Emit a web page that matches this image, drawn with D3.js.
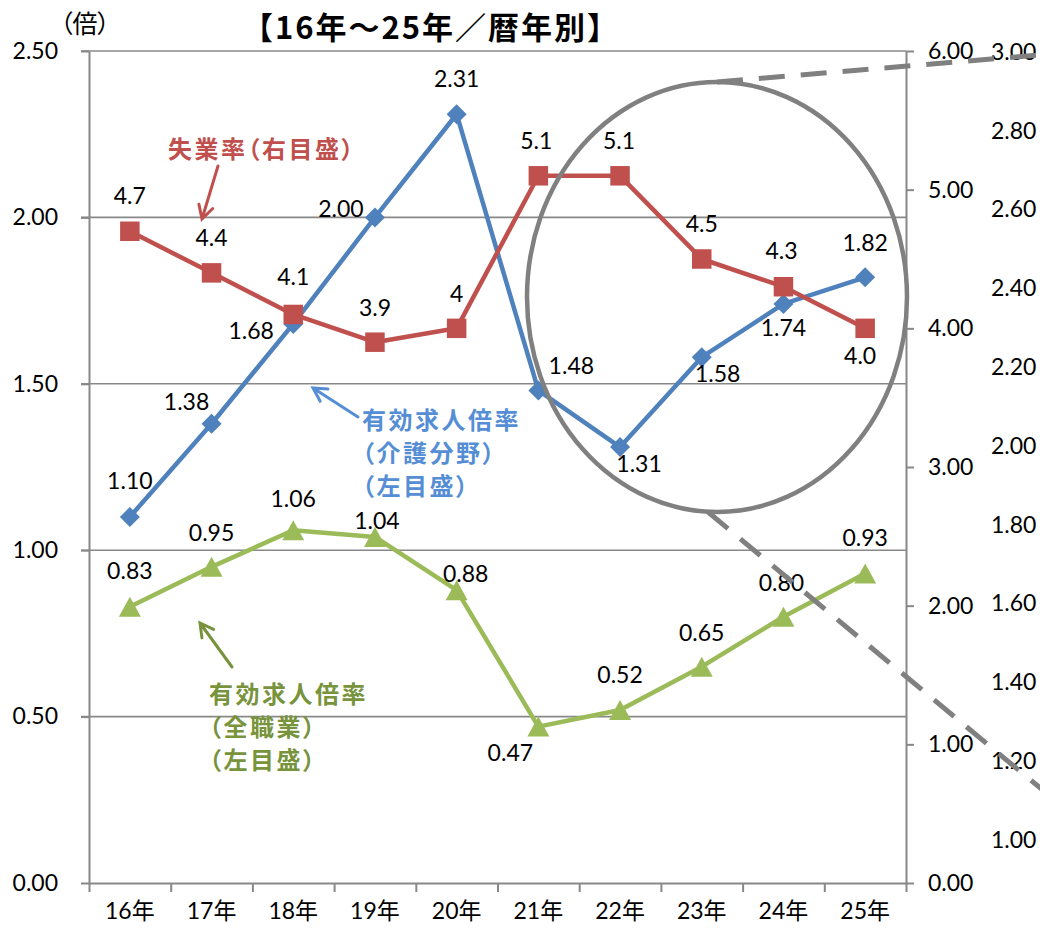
<!DOCTYPE html>
<html><head><meta charset="utf-8">
<script src="https://cdn.jsdelivr.net/npm/d3@7"></script>
<style>
body{margin:0;background:#fff;}
svg{display:block;}
</style></head>
<body>
<svg id="chart" width="1040" height="929"></svg>
<script>
// ---- data ----
const categories = ["16年","17年","18年","19年","20年","21年","22年","23年","24年","25年"];
const careRatio = [1.10,1.38,1.68,2.00,2.31,1.48,1.31,1.58,1.74,1.82];
const unemployment = [4.7,4.4,4.1,3.9,4.0,5.1,5.1,4.5,4.3,4.0];
const unemploymentLabels = ["4.7","4.4","4.1","3.9","4","5.1","5.1","4.5","4.3","4.0"];
const allJobsRatio = [0.83,0.95,1.06,1.04,0.88,0.47,0.52,0.65,0.80,0.93];
const leftTicks = [0,0.5,1.0,1.5,2.0,2.5];
const rightTicks = [0,1,2,3,4,5,6];
const zoomTicks = [1.0,1.2,1.4,1.6,1.8,2.0,2.2,2.4,2.6,2.8,3.0];
const titleText = "【16年～25年／暦年別】";
const unitText = "（倍）";

// ---- label placement (offsets from point) ----
const careLabelOff = [[0,-37],[-25,-23],[-42,6],[-34,-9],[0,-36],[33,-25],[19,16],[16,16],[0,23],[0,-35]];
const unempLabelOff = [[0,-36],[0,-36],[0,-38],[0,-35],[0,-35],[-2,-36],[-1,-36],[0,-36],[-2,-37],[-5,27]];
const allLabelOff = [[0,-37],[0,-35],[0,-32],[2,-17],[9,-17],[-28,25],[0,-36],[0,-35],[-2,-35],[0,-36]];

const NUM_FONT = "Lato, 'Noto Sans CJK JP', sans-serif";
const JP_FONT = "'Noto Sans CJK JP', 'Noto Sans', sans-serif";
const BLUE = "#4F81BD", RED = "#C0504D", GREEN = "#9BBB59", GRID = "#888888";

const svg = d3.select("#chart");
svg.append("rect").attr("width",1040).attr("height",929).attr("fill","#fff");

const L = 89, R = 906, T = 51, B = 883;
const x = d3.scaleBand().domain(categories).range([L,R]).padding(0);
const xEdge = d3.scaleLinear().domain([0,categories.length]).range([L,R]);
const yL = d3.scaleLinear().domain([0,2.5]).range([B,T]);
const yR = d3.scaleLinear().domain([0,6]).range([B,T]);
const yZ = d3.scaleLinear().domain([1,3]).range([840,52]);
const cx = c => x(c) + x.bandwidth()/2;

// gridlines
svg.append("g").selectAll("line").data(leftTicks.filter(d=>d>0)).join("line")
  .attr("x1",L-8).attr("x2",R).attr("y1",d=>yL(d)).attr("y2",d=>yL(d))
  .attr("stroke",GRID).attr("stroke-width",1.6);

function styleAxis(g){
  g.selectAll("path,line").attr("stroke",GRID).attr("stroke-width",2);
  g.selectAll("text").attr("font-family",NUM_FONT).attr("font-size",23).attr("fill","#000");
}
// left axis
svg.append("g").attr("transform",`translate(${L},0)`)
  .call(d3.axisLeft(yL).tickValues(leftTicks).tickFormat(d3.format(".2f")).tickSize(8).tickSizeOuter(0).tickPadding(23))
  .call(styleAxis);
// right axis
svg.append("g").attr("transform",`translate(${R},0)`)
  .call(d3.axisRight(yR).tickValues(rightTicks).tickFormat(d3.format(".2f")).tickSize(8).tickSizeOuter(0).tickPadding(14))
  .call(styleAxis);
// zoom (third) axis labels
svg.append("g").attr("transform",`translate(991,0)`)
  .call(d3.axisRight(yZ).tickValues(zoomTicks).tickFormat(d3.format(".2f")).tickSize(0).tickPadding(0))
  .call(styleAxis).call(g=>g.select(".domain").remove());
// bottom axis: boundary ticks
svg.append("g").attr("transform",`translate(0,${B})`)
  .call(d3.axisBottom(xEdge).tickValues(d3.range(categories.length+1)).tickFormat("").tickSize(9).tickSizeOuter(0))
  .call(styleAxis);
// bottom labels
svg.append("g").attr("transform",`translate(0,${B})`)
  .call(d3.axisBottom(x).tickSize(0).tickPadding(20))
  .call(styleAxis).call(g=>g.select(".domain").remove());

// title & unit
svg.append("text").attr("x",431).attr("y",25).attr("text-anchor","middle").attr("dominant-baseline","central")
  .attr("font-family",JP_FONT).attr("font-weight","bold").attr("font-size",31).attr("fill","#000")
  .style("letter-spacing","2px").text(titleText);
svg.append("text").attr("x",60).attr("y",22).attr("dominant-baseline","central")
  .attr("font-family",JP_FONT).attr("font-size",25).attr("fill","#000")
  .style("font-feature-settings","'palt'").text(unitText);

// series
function drawSeries(values, scale, color, width){
  const line = d3.line().x((d,i)=>cx(categories[i])).y(d=>scale(d));
  svg.append("path").datum(values).attr("d",line).attr("fill","none")
    .attr("stroke",color).attr("stroke-width",width).attr("stroke-linejoin","round");
}
drawSeries(careRatio, yL, BLUE, 4.5);
drawSeries(unemployment, yR, RED, 4.5);
drawSeries(allJobsRatio, yL, GREEN, 4.5);

// markers
svg.append("g").selectAll("path").data(careRatio).join("path")
  .attr("d", d3.symbol(d3.symbolSquare, 200))
  .attr("transform",(d,i)=>`translate(${cx(categories[i])},${yL(d)}) rotate(45)`)
  .attr("fill",BLUE);
svg.append("g").selectAll("path").data(unemployment).join("path")
  .attr("d", d3.symbol(d3.symbolSquare, 380))
  .attr("transform",(d,i)=>`translate(${cx(categories[i])},${yR(d)})`)
  .attr("fill",RED);
const tri = "M0,-10L11,10L-11,10Z";
svg.append("g").selectAll("path").data(allJobsRatio).join("path")
  .attr("d", tri)
  .attr("transform",(d,i)=>`translate(${cx(categories[i])},${yL(d)})`)
  .attr("fill",GREEN);

// data labels
function drawLabels(values, scale, texts, offs){
  svg.append("g").selectAll("text").data(values).join("text")
    .attr("x",(d,i)=>cx(categories[i])+offs[i][0])
    .attr("y",(d,i)=>scale(d)+offs[i][1])
    .attr("text-anchor","middle").attr("dominant-baseline","central")
    .attr("font-family",NUM_FONT).attr("font-size",23).attr("fill","#000")
    .text((d,i)=>texts[i]);
}
drawLabels(careRatio, yL, careRatio.map(d3.format(".2f")), careLabelOff);
drawLabels(unemployment, yR, unemploymentLabels, unempLabelOff);
drawLabels(allJobsRatio, yL, allJobsRatio.map(d3.format(".2f")), allLabelOff);

// annotations
function annot(lines, x0, y0, color){
  const t = svg.append("text").attr("font-family",JP_FONT).attr("font-weight","bold")
    .attr("font-size",24).attr("fill",color).style("letter-spacing","2.5px")
    .style("font-feature-settings","'palt'");
  lines.forEach((s,i)=>t.append("tspan").attr("x",x0).attr("y",y0+i*33).attr("dominant-baseline","central").text(s));
}
function arrow(x1,y1,x2,y2,color){
  const ang = Math.atan2(y2-y1,x2-x1), len=15, spread=0.5;
  const p = d3.path();
  p.moveTo(x1,y1); p.lineTo(x2,y2);
  p.moveTo(x2-len*Math.cos(ang-spread), y2-len*Math.sin(ang-spread));
  p.lineTo(x2,y2);
  p.lineTo(x2-len*Math.cos(ang+spread), y2-len*Math.sin(ang+spread));
  svg.append("path").attr("d",p.toString()).attr("fill","none").attr("stroke",color)
    .attr("stroke-width",3).attr("stroke-linecap","round").attr("stroke-linejoin","miter");
}
annot(["失業率（右目盛）"],168,147,"#C0504D");
arrow(218,166,202,219,"#C0504D");
annot(["有効求人倍率","（介護分野）","（左目盛）"],362,418,"#558ED5");
arrow(358,417,313,388,"#558ED5");
annot(["有効求人倍率","（全職業）","（左目盛）"],209,692,"#77933C");
arrow(232,667,200,623,"#77933C");

// highlight ellipse and zoom guide lines
svg.append("ellipse").attr("cx",717).attr("cy",297).attr("rx",190).attr("ry",215)
  .attr("fill","none").attr("stroke","#808080").attr("stroke-width",4.5);
svg.append("line").attr("x1",717).attr("y1",82).attr("x2",1040).attr("y2",55)
  .attr("stroke","#808080").attr("stroke-width",5).attr("stroke-dasharray","26,16");
svg.append("line").attr("x1",708).attr("y1",512).attr("x2",1045).attr("y2",792)
  .attr("stroke","#808080").attr("stroke-width",5).attr("stroke-dasharray","26,16");
</script>
</body></html>
